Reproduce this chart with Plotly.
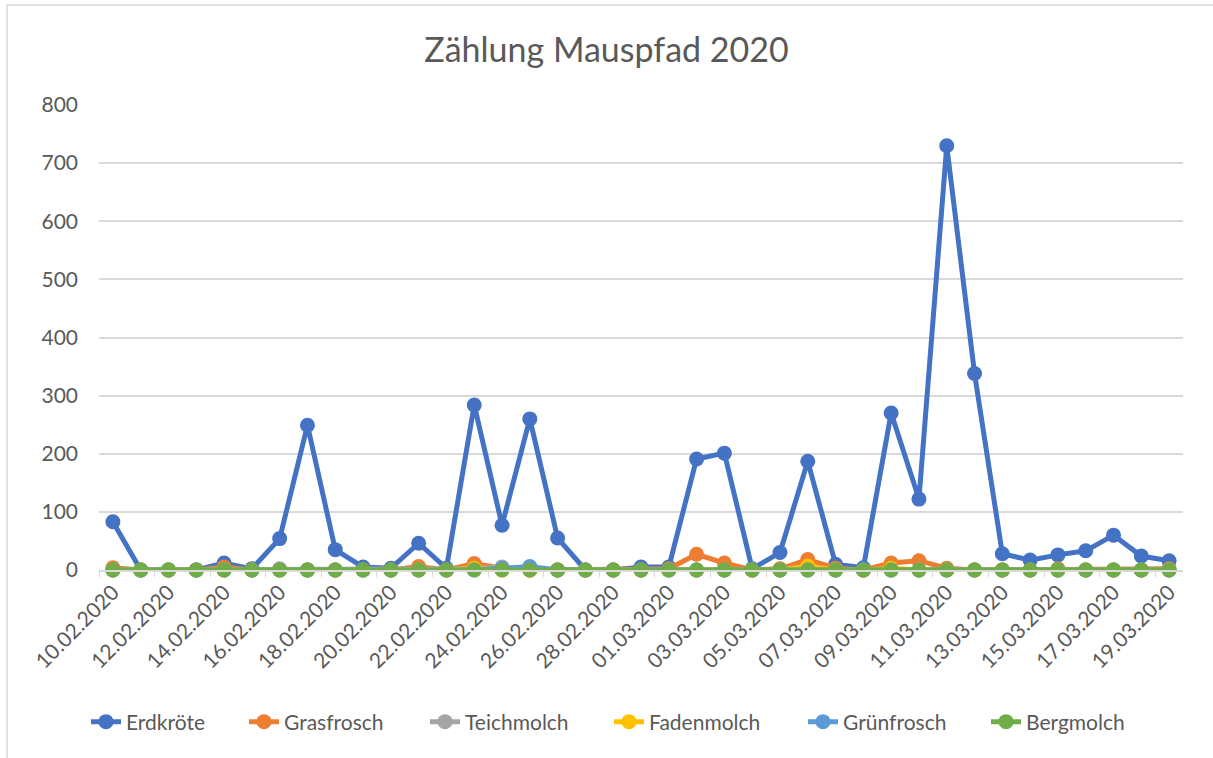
import plotly.graph_objects as go

dates = ["10.02.2020", "11.02.2020", "12.02.2020", "13.02.2020", "14.02.2020", "15.02.2020",
         "16.02.2020", "17.02.2020", "18.02.2020", "19.02.2020", "20.02.2020", "21.02.2020",
         "22.02.2020", "23.02.2020", "24.02.2020", "25.02.2020", "26.02.2020", "27.02.2020",
         "28.02.2020", "29.02.2020", "01.03.2020", "02.03.2020", "03.03.2020", "04.03.2020",
         "05.03.2020", "06.03.2020", "07.03.2020", "08.03.2020", "09.03.2020", "10.03.2020",
         "11.03.2020", "12.03.2020", "13.03.2020", "14.03.2020", "15.03.2020", "16.03.2020",
         "17.03.2020", "18.03.2020", "19.03.2020"]

erdkroete = [83, 0, 0, 0, 12, 2, 54, 249, 35, 5, 3, 46, 3, 284, 77, 260, 55, 0, 0, 5,
             5, 191, 201, 2, 30, 187, 10, 4, 270, 122, 730, 338, 28, 17, 26, 33, 60, 24, 16]
grasfrosch = [4, 0, 0, 0, 5, 0, 0, 0, 0, 0, 0, 6, 0, 11, 3, 0, 0, 0, 0, 0,
              2, 27, 12, 0, 2, 18, 3, 0, 12, 16, 3, 0, 0, 0, 2, 0, 0, 0, 2]
teichmolch = [0, 0, 0, 0, 0, 0, 2, 0, 0, 0, 0, 0, 0, 2, 5, 0, 0, 0, 0, 0,
              0, 0, 0, 0, 0, 0, 0, 0, 0, 0, 0, 0, 0, 0, 0, 0, 0, 0, 0]
fadenmolch = [0, 0, 0, 0, 0, 0, 0, 0, 0, 0, 0, 0, 0, 3, 0, 0, 0, 0, 0, 0,
              0, 0, 0, 0, 0, 7, 0, 0, 3, 0, 0, 0, 0, 0, 0, 0, 0, 0, 0]
gruenfrosch = [0, 0, 0, 0, 0, 0, 0, 0, 0, 0, 0, 0, 0, 0, 3, 6, 0, 0, 0, 0,
               0, 0, 0, 0, 0, 0, 0, 0, 0, 0, 0, 0, 0, 0, 0, 0, 0, 0, 0]
bergmolch = [0] * 39

series_names = ["Erdkröte", "Grasfrosch", "Teichmolch", "Fadenmolch", "Grünfrosch", "Bergmolch"]
series_values = [erdkroete, grasfrosch, teichmolch, fadenmolch, gruenfrosch, bergmolch]
colors = ["#4472C4", "#ED7D31", "#A5A5A5", "#FFC000", "#5B9BD5", "#70AD47"]

FONT = "Lato, 'Open Sans', sans-serif"
TXT = "#595959"

W, H = 1213, 758
L, R, T, B = 99, 1183, 105, 570
pw, ph = R - L, B - T

def px_x(x):
    return (x - L) / pw

def px_y(y):
    return (B - y) / ph

# left pixel position of each legend entry (symbol start)
legend_px = [83, 241, 422, 606, 800, 983]

fig = go.Figure()
legend_layouts = {}
for i, (name, vals, col) in enumerate(zip(series_names, series_values, colors)):
    lname = "legend" if i == 0 else f"legend{i + 1}"
    fig.add_trace(go.Scatter(
        x=dates, y=vals, name=name, mode="lines+markers",
        line=dict(color=col, width=5),
        marker=dict(color=col, size=15),
        cliponaxis=False,
        legend=lname,
        showlegend=True,
    ))
    legend_layouts[lname] = dict(
        orientation="h", x=px_x(legend_px[i] + 3), y=px_y(722),
        xanchor="left", yanchor="middle",
        font=dict(size=21, color=TXT, family=FONT), bgcolor="rgba(0,0,0,0)",
    )

fig.update_layout(
    width=W, height=H,
    showlegend=True,
    margin=dict(l=L, r=W - R, t=T, b=H - B),
    paper_bgcolor="white", plot_bgcolor="white",
    font=dict(family=FONT, color=TXT, size=21),
    title=dict(text="Zählung Mauspfad 2020", x=0.5, xref="container", xanchor="center",
               y=1 - 50 / H, yref="container", yanchor="middle",
               font=dict(size=34, color=TXT, family=FONT)),
    xaxis=dict(type="category", range=[-0.5, 38.5], dtick=2, tickangle=-45,
               ticks="outside", ticklen=5, tickcolor="#d9d9d9", tickson="boundaries",
               showline=True, linecolor="#d9d9d9", linewidth=1.5, showgrid=False,
               tickfont=dict(size=21, color=TXT)),
    yaxis=dict(range=[0, 800], dtick=100, showgrid=True, gridcolor="#d9d9d9", gridwidth=1.5,
               zeroline=False, showline=False, ticks="", ticklabelstandoff=20,
               tickfont=dict(size=21, color=TXT)),
    shapes=[dict(type="rect", xref="paper", yref="paper",
                 x0=px_x(7), x1=px_x(1230), y0=px_y(780), y1=px_y(5),
                 line=dict(color="#d9d9d9", width=1.5), layer="below")],
    **legend_layouts,
)

fig.write_html("out.html", config={"displayModeBar": False},
               post_script="document.body.style.margin='0';")
